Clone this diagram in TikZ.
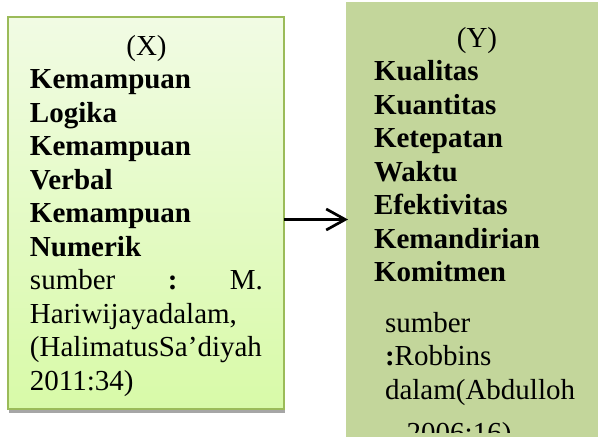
\documentclass[tikz,border=0pt]{standalone}
\usepackage{fontspec}
\setmainfont{Liberation Serif}
\usetikzlibrary{arrows.meta}
\definecolor{yfill}{HTML}{C3D69B}
\definecolor{xborder}{HTML}{9BBB59}
\definecolor{xtop}{HTML}{F1FBE4}
\definecolor{xbot}{HTML}{D8FAA8}
\begin{document}
\begin{tikzpicture}[x=1pt,y=-1pt,
  txt/.style={inner sep=0pt, outer sep=0pt, anchor=north west, align=left,
    font=\fontsize{29}{33.5}\selectfont},
  boxbase/.style={inner sep=0pt, outer sep=0pt, anchor=north west}]
\useasboundingbox (0,0) rectangle (598,445);
% shadow of left box
\fill[gray!70] (9,21) rectangle (285,413);
% left box
\node[boxbase, draw=xborder, line width=1.5pt, top color=xtop, bottom color=xbot,
  minimum width=276pt, minimum height=392pt] (xbox) at (8,17) {};
% right box
\node[boxbase, fill=yfill, minimum width=252pt, minimum height=435pt] (ybox) at (346,2) {};
% left text
\node[txt, text width=233pt] (xtext) at (30,35) {\makebox[\linewidth]{(X)}\\
\textbf{Kemampuan}\\
\textbf{Logika}\\
\textbf{Kemampuan}\\
\textbf{Verbal}\\
\textbf{Kemampuan}\\
\textbf{Numerik}\\
\makebox[\linewidth]{sumber\hfill\textbf{:}\hfill M.}\\
Hariwijayadalam,\\
(HalimatusSa’diyah\\
2011:34)};
% right text, clipped near the box bottom
\begin{scope}
\clip (346,0) rectangle (598,432);
\node[txt, text width=206pt] (ytext) at (374,27) {\makebox[\linewidth]{(Y)}\\
\textbf{Kualitas}\\
\textbf{Kuantitas}\\
\textbf{Ketepatan}\\
\textbf{Waktu}\\
\textbf{Efektivitas}\\
\textbf{Kemandirian}\\
\textbf{Komitmen}\\[17pt]
\hspace*{11pt}sumber\\
\hspace*{11pt}\textbf{:}Robbins\\
\hspace*{11pt}dalam(Abdulloh\\[9.5pt]
\hspace*{11pt}. 2006:16)};
\end{scope}
% arrow
\draw[line width=2.7pt, -{Straight Barb[length=19pt,width=21pt]}, shorten >=-2pt]
  (xbox.east |- ybox.west) -- (ybox.west);
\end{tikzpicture}
\end{document}
